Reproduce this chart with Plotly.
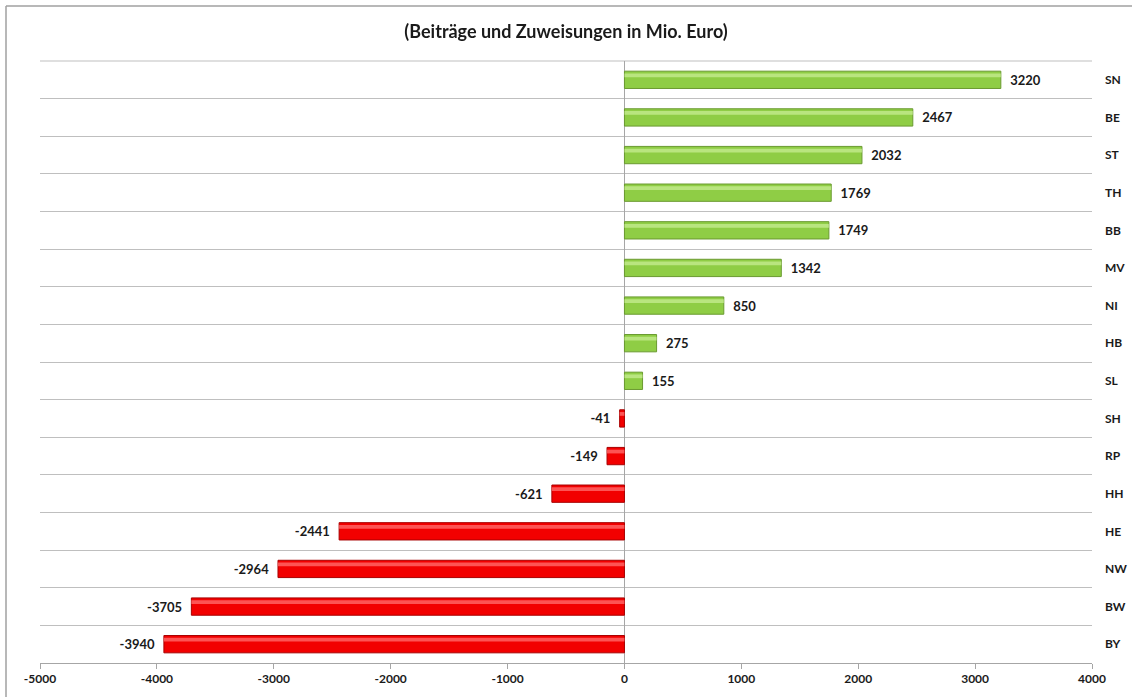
import plotly.graph_objects as go

states = ["SN", "BE", "ST", "TH", "BB", "MV", "NI", "HB", "SL", "SH", "RP", "HH", "HE", "NW", "BW", "BY"]
values = [3220, 2467, 2032, 1769, 1749, 1342, 850, 275, 155, -41, -149, -621, -2441, -2964, -3705, -3940]
x_ticks = [-5000, -4000, -3000, -2000, -1000, 0, 1000, 2000, 3000, 4000]
title_text = "(Beiträge und Zuweisungen in Mio. Euro)"

# bottom-to-top order for plotly
cats = states[::-1]
vals = values[::-1]
fill = ["#8fcd45" if v >= 0 else "#f20000" for v in vals]
edge = ["#6a9a30" if v >= 0 else "#a80000" for v in vals]
hilite = ["#c4ec8e" if v >= 0 else "#ff6a6a" for v in vals]
NB = "\u00a0"
labels = [(NB * 2 + str(v)) if v >= 0 else (str(v) + NB * 2) for v in vals]

FONT = "Lato"

fig = go.Figure()
fig.add_trace(go.Bar(
    y=cats, x=vals, orientation="h", width=0.46,
    marker=dict(color=fill, line=dict(color=edge, width=1)),
    text=labels, textposition="outside",
    textfont=dict(family=FONT, size=13, color="#1a1a1a", weight="bold"),
    cliponaxis=False, showlegend=False,
))
# highlight strip (glossy look)
fig.add_trace(go.Bar(
    y=cats, x=vals, orientation="h", width=0.1, offset=0.07,
    marker=dict(color=hilite, line=dict(width=0)), opacity=0.8,
    hoverinfo="skip", showlegend=False,
))

fx = (6 - 40) / 1052
fy = 1 + (61 - 6) / 602
fig.update_layout(
    width=1132, height=697,
    margin=dict(l=40, r=40, t=61, b=34, autoexpand=False),
    paper_bgcolor="white", plot_bgcolor="white",
    barmode="overlay",
    title=dict(text=title_text, x=0.5, xanchor="center", y=1 - 32 / 697, yanchor="middle",
               font=dict(family=FONT, size=18, color="#1a1a1a", weight="bold")),
    xaxis=dict(range=[-5000, 4000], tickvals=x_ticks, ticktext=[str(t) for t in x_ticks],
               automargin=False,
               showgrid=False, zeroline=True, zerolinecolor="#a6a6a6", zerolinewidth=1,
               showline=True, linecolor="#a6a6a6", linewidth=1,
               ticks="outside", ticklen=5, tickcolor="#a6a6a6",
               tickfont=dict(family=FONT, size=12, color="#1a1a1a", weight="bold")),
    yaxis=dict(type="category", categoryorder="array", categoryarray=cats,
               automargin=False,
               side="right", tickson="boundaries", showgrid=True, gridcolor="#bfbfbf",
               gridwidth=1, ticks="", showline=False, ticklabelstandoff=12,
               tickfont=dict(family=FONT, size=12, color="#1a1a1a", weight="bold")),
    shapes=[
        dict(type="line", xref="paper", yref="paper", x0=fx, x1=1.1, y0=fy, y1=fy,
             line=dict(color="#a0a0a0", width=1.5), layer="below"),
        dict(type="line", xref="paper", yref="paper", x0=fx, x1=fx, y0=fy, y1=-0.1,
             line=dict(color="#a0a0a0", width=1.5), layer="below"),
        dict(type="line", xref="paper", yref="paper", x0=0, x1=1, y0=1, y1=1,
             line=dict(color="#bfbfbf", width=1), layer="below"),
    ],
)

fig.write_html("out.html", config={"displayModeBar": False},
               post_script="document.body.style.margin='0';document.body.style.overflow='hidden';")
